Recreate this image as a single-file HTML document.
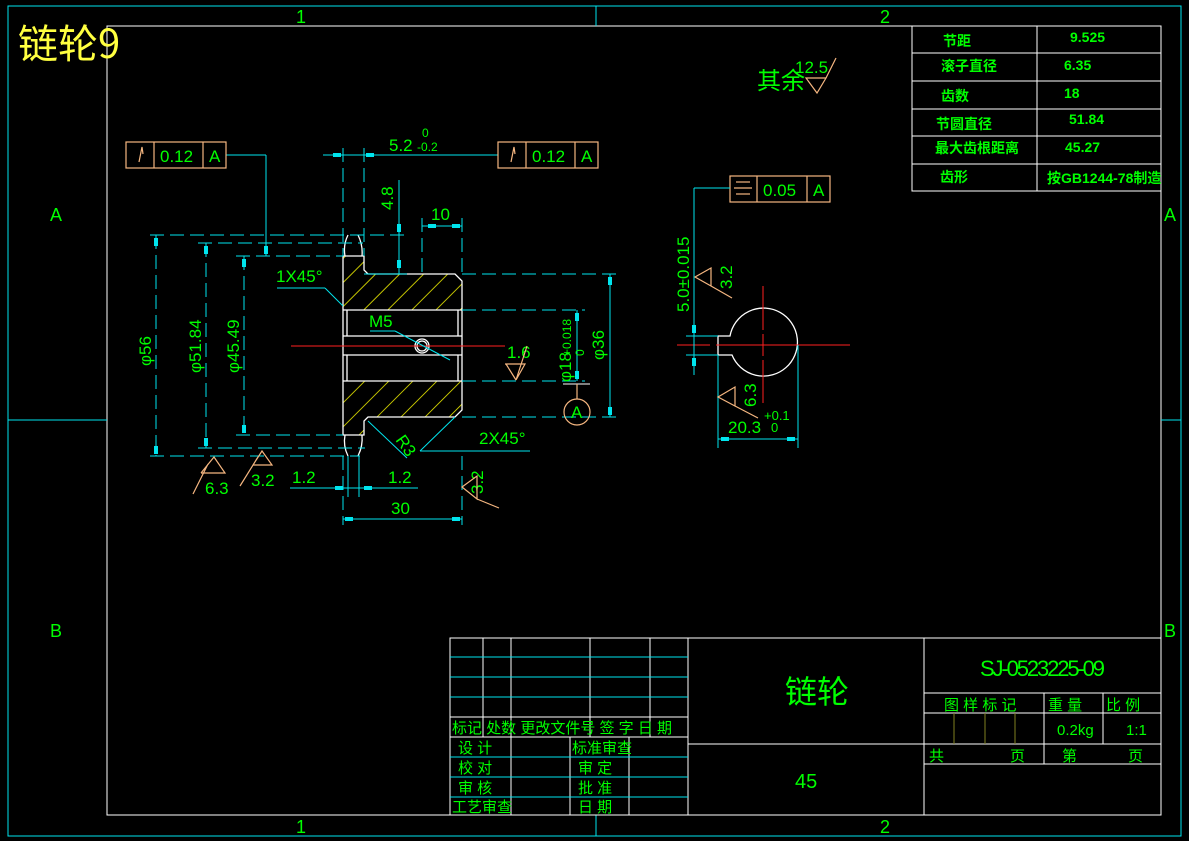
<!DOCTYPE html>
<html><head><meta charset="utf-8"><style>
html,body{margin:0;padding:0;background:#000;}
svg{display:block}
text{font-family:"Liberation Sans","Noto Sans CJK SC",sans-serif;fill:#00ff00}
.c{stroke:#00e5ee;stroke-width:1;fill:none}
.d{stroke:#00e5ee;stroke-width:1;fill:none;stroke-dasharray:14 6}
.w{stroke:#fff;stroke-width:1.3;fill:none}
.o{stroke:#f5b680;stroke-width:1.2;fill:none}
.r{stroke:#ff2020;stroke-width:1;fill:none}
.cj{font-family:"Noto Sans CJK SC","WenQuanYi Zen Hei",sans-serif}
</style></head><body>
<svg width="1189" height="841" viewBox="0 0 1189 841" xmlns="http://www.w3.org/2000/svg">
<defs>
<pattern id="h" patternUnits="userSpaceOnUse" width="17" height="17" patternTransform="rotate(45)">
<line x1="0" y1="0" x2="0" y2="17" stroke="#ffff00" stroke-width="1.5"/>
</pattern>
</defs>
<rect x="8" y="6" width="1173" height="830" class="c"/>
<rect x="107" y="26" width="1054" height="789" fill="none" stroke="#fff" stroke-width="1"/>
<line x1="596" y1="6" x2="596" y2="26" class="c"/><line x1="596" y1="815" x2="596" y2="836" class="c"/>
<line x1="8" y1="420" x2="107" y2="420" class="c"/><line x1="1161" y1="420" x2="1181" y2="420" class="c"/>
<g font-size="18">
<text x="296" y="23">1</text><text x="880" y="23">2</text>
<text x="296" y="833">1</text><text x="880" y="833">2</text>
<text x="50" y="221">A</text><text x="50" y="637">B</text>
<text x="1164" y="221">A</text><text x="1164" y="637">B</text>
</g>
<text x="18" y="58" font-size="40" class="cj" style="fill:#ffff40">链轮9</text>

<g stroke="#fff" fill="none">
<rect x="912" y="26" width="249" height="165"/>
<line x1="1037" y1="26" x2="1037" y2="191"/>
<line x1="912" y1="53" x2="1161" y2="53"/><line x1="912" y1="81" x2="1161" y2="81"/>
<line x1="912" y1="109" x2="1161" y2="109"/><line x1="912" y1="136" x2="1161" y2="136"/>
<line x1="912" y1="164" x2="1161" y2="164"/>
</g>
<g font-size="14" font-weight="bold" class="cj">
<text x="943" y="46">节距</text><text x="941" y="71">滚子直径</text><text x="941" y="101">齿数</text>
<text x="936" y="129">节圆直径</text><text x="935" y="153">最大齿根距离</text><text x="940" y="182">齿形</text>
<text x="1047" y="183" font-size="14">按GB1244-78制造</text>
</g>
<g font-size="14" font-family="Liberation Serif" font-weight="bold">
<text x="1070" y="42">9.525</text><text x="1064" y="70">6.35</text><text x="1064" y="98">18</text>
<text x="1069" y="124">51.84</text><text x="1065" y="152">45.27</text>
</g>
<text x="757" y="89" font-size="24" class="cj">其余</text>
<text x="795" y="73" font-size="17">12.5</text>
<path d="M806,78 L826,78 L817,93 Z M826,78 L836,58" class="o"/>

<g stroke="#fff" fill="none">
<rect x="450" y="638" width="711" height="177"/>
<line x1="688" y1="638" x2="688" y2="815"/><line x1="924" y1="638" x2="924" y2="815"/>
<line x1="450" y1="717" x2="688" y2="717"/><line x1="450" y1="737" x2="688" y2="737"/>
<line x1="483" y1="638" x2="483" y2="737"/><line x1="511" y1="638" x2="511" y2="815"/>
<line x1="590" y1="638" x2="590" y2="737"/><line x1="650" y1="638" x2="650" y2="737"/>
<line x1="570" y1="737" x2="570" y2="815"/><line x1="629" y1="737" x2="629" y2="815"/>
<line x1="688" y1="744" x2="924" y2="744"/>
<line x1="924" y1="693" x2="1161" y2="693"/><line x1="924" y1="713" x2="1161" y2="713"/>
<line x1="924" y1="744" x2="1161" y2="744"/><line x1="924" y1="764" x2="1161" y2="764"/>
<line x1="1044" y1="693" x2="1044" y2="764"/><line x1="1103" y1="693" x2="1103" y2="744"/>
</g>
<g stroke="#00e5ee"><line x1="450" y1="657" x2="688" y2="657"/><line x1="450" y1="677" x2="688" y2="677"/><line x1="450" y1="697" x2="688" y2="697"/>
<line x1="450" y1="757" x2="688" y2="757"/><line x1="450" y1="777" x2="688" y2="777"/><line x1="450" y1="797" x2="688" y2="797"/></g>
<g stroke="#808020"><line x1="954" y1="713" x2="954" y2="744"/><line x1="985" y1="713" x2="985" y2="744"/><line x1="1015" y1="713" x2="1015" y2="744"/></g>
<g font-size="15" class="cj">
<text x="452" y="733">标记 处数 更改文件号  签  字  日 期</text>
<text x="458" y="753">设  计</text><text x="572" y="753">标准审查</text>
<text x="458" y="773">校  对</text><text x="578" y="773">审  定</text>
<text x="458" y="793">审  核</text><text x="578" y="793">批  准</text>
<text x="452" y="812">工艺审查</text><text x="578" y="812">日  期</text>
<text x="944" y="710">图 样 标 记</text><text x="1048" y="710">重   量</text><text x="1106" y="710">比   例</text>
<text x="929" y="761">共</text><text x="1010" y="761">页</text><text x="1062" y="761">第</text><text x="1128" y="761">页</text>
</g>
<text x="785" y="703" font-size="32" class="cj">链轮</text>
<text x="980" y="676" font-size="22" font-family="Liberation Sans Narrow" textLength="125">SJ-0523225-09</text>
<text x="795" y="788" font-size="20">45</text>
<text x="1057" y="735" font-size="15" font-family="Liberation Serif">0.2kg</text>
<text x="1126" y="735" font-size="15" font-family="Liberation Serif">1:1</text>

<path d="M343,256 L364,256 L364,270 L368,274 L455,274 L462,281 L462,310 L343,310 Z" fill="url(#h)"/>
<path d="M343,381 L462,381 L462,410 L455,417 L368,417 L364,421 L364,435 L343,435 Z" fill="url(#h)"/>
<g class="w">
<path d="M343,256 L364,256 L364,270 L368,274 L455,274 L462,281 L462,410 L455,417 L368,417 L364,421 L364,435 L343,435 Z"/>
<line x1="343" y1="310" x2="462" y2="310"/><line x1="343" y1="381" x2="462" y2="381"/>
<line x1="343" y1="336" x2="462" y2="336"/><line x1="343" y1="355" x2="462" y2="355"/>
<line x1="347" y1="310" x2="347" y2="336"/><line x1="458" y1="310" x2="458" y2="336"/>
<line x1="347" y1="355" x2="347" y2="381"/><line x1="458" y1="355" x2="458" y2="381"/>
<path d="M345,256 Q343,245 348,235 M362,256 Q363,245 358,235"/>
<path d="M345,435 Q343,446 348,456 M362,435 Q363,446 358,456"/>
<circle cx="422" cy="346" r="7"/><circle cx="422" cy="346" r="5"/>
</g>
<line x1="291" y1="346" x2="505" y2="346" class="r"/>
<g class="d">
<line x1="150" y1="235" x2="408" y2="235"/><line x1="198" y1="243" x2="363" y2="243"/>
<line x1="236" y1="256" x2="343" y2="256"/><line x1="462" y1="274" x2="619" y2="274"/>
<line x1="462" y1="310" x2="585" y2="310"/><line x1="462" y1="381" x2="585" y2="381"/>
<line x1="462" y1="417" x2="619" y2="417"/><line x1="236" y1="435" x2="343" y2="435"/>
<line x1="198" y1="448" x2="365" y2="448"/><line x1="150" y1="456" x2="360" y2="456"/>
<line x1="156" y1="235" x2="156" y2="456"/><line x1="206" y1="243" x2="206" y2="448"/>
<line x1="244" y1="256" x2="244" y2="435"/>
<line x1="343" y1="148" x2="343" y2="256"/><line x1="364" y1="148" x2="364" y2="256"/>
<line x1="422" y1="218" x2="422" y2="274"/><line x1="462" y1="218" x2="462" y2="274"/>
<line x1="462" y1="456" x2="462" y2="525"/><line x1="343" y1="456" x2="343" y2="525"/>
</g>
<g class="c">
<line x1="610" y1="274" x2="610" y2="417"/><line x1="577" y1="310" x2="577" y2="381"/>
<line x1="399" y1="180" x2="399" y2="274"/><line x1="364" y1="274" x2="407" y2="274"/>
<line x1="323" y1="155" x2="498" y2="155"/>
<line x1="422" y1="226" x2="462" y2="226"/>
<line x1="343" y1="519" x2="462" y2="519"/>
<line x1="290" y1="488" x2="418" y2="488"/>
<line x1="348" y1="456" x2="348" y2="497"/><line x1="359" y1="456" x2="359" y2="497"/>
<line x1="226" y1="155" x2="266" y2="155"/><line x1="266" y1="155" x2="266" y2="256"/>
<line x1="277" y1="288" x2="325" y2="288"/><line x1="325" y1="288" x2="343" y2="306"/>
<line x1="370" y1="331" x2="395" y2="331"/><line x1="395" y1="331" x2="450" y2="360"/>
<line x1="368" y1="421" x2="407" y2="458"/>
<line x1="420" y1="451" x2="530" y2="451"/><line x1="420" y1="451" x2="455" y2="417"/>
</g>
<g fill="#00e5ee">
<rect x="154" y="238" width="4" height="8"/><rect x="154" y="446" width="4" height="8"/>
<rect x="204" y="246" width="4" height="8"/><rect x="204" y="438" width="4" height="8"/>
<rect x="242" y="259" width="4" height="8"/><rect x="242" y="425" width="4" height="8"/>
<rect x="264" y="246" width="4" height="8"/>
<rect x="608" y="277" width="4" height="8"/><rect x="608" y="407" width="4" height="8"/>
<rect x="575" y="313" width="4" height="8"/><rect x="575" y="371" width="4" height="8"/>
<rect x="397" y="224" width="4" height="8"/><rect x="397" y="260" width="4" height="8"/>
<rect x="333" y="153" width="8" height="4"/><rect x="366" y="153" width="8" height="4"/>
<rect x="428" y="224" width="8" height="4"/><rect x="452" y="224" width="8" height="4"/>
<rect x="345" y="517" width="8" height="4"/><rect x="452" y="517" width="8" height="4"/>
<rect x="335" y="486" width="8" height="4"/><rect x="364" y="486" width="8" height="4"/>
</g>
<g font-size="17">
<text x="389" y="151">5.2</text><text x="422" y="137" font-size="12">0</text><text x="417" y="151" font-size="12">-0.2</text>
<text x="431" y="220">10</text>
<text x="391" y="514">30</text>
<text x="292" y="483">1.2</text><text x="388" y="483">1.2</text>
<text x="276" y="282">1X45°</text>
<text x="369" y="327">M5</text>
<text x="507" y="358">1.6</text>
<text x="479" y="444">2X45°</text>
<text x="205" y="494">6.3</text><text x="251" y="486">3.2</text>
<text transform="translate(151,366) rotate(-90)">φ56</text>
<text transform="translate(201,373) rotate(-90)">φ51.84</text>
<text transform="translate(239,373) rotate(-90)">φ45.49</text>
<text transform="translate(604,360) rotate(-90)">φ36</text>
<text transform="translate(571,382) rotate(-90)">φ18</text>
<text transform="translate(571,356) rotate(-90)" font-size="12">+0.018</text>
<text transform="translate(584,356) rotate(-90)" font-size="12">0</text>
<text transform="translate(393,210) rotate(-90)">4.8</text>
<text transform="translate(395,440) rotate(55)">R3</text>
<text transform="translate(483,494) rotate(-90)">3.2</text>
</g>
<g class="o">
<path d="M505,364 L525,364 L516,380 M516,380 L506,364 M516,380 L527,346"/>
<path d="M201,473 L225,473 L214,457 L201,473 M208,464 L193,494"/>
<path d="M253,465 L272,465 L262,451 L253,465 M258,457 L240,486"/>
<path d="M462,487 L477,476 L477,499 Z M477,499 L499,508"/>
</g>
<g class="o">
<rect x="126" y="142" width="100" height="26"/><line x1="154" y1="142" x2="154" y2="168"/><line x1="203" y1="142" x2="203" y2="168"/>
<rect x="498" y="142" width="100" height="26"/><line x1="526" y1="142" x2="526" y2="168"/><line x1="575" y1="142" x2="575" y2="168"/>
<rect x="730" y="176" width="100" height="26"/><line x1="757" y1="176" x2="757" y2="202"/><line x1="807" y1="176" x2="807" y2="202"/>
<path d="M139,162 L142,147 L143,154" /><path d="M511,162 L514,147 L515,154"/>
<line x1="736" y1="182" x2="750" y2="182"/><line x1="734" y1="188" x2="752" y2="188"/><line x1="736" y1="194" x2="750" y2="194"/>
<circle cx="577" cy="412" r="13"/>
</g>
<line x1="563" y1="384" x2="590" y2="384" stroke="#fff"/><line x1="577" y1="384" x2="577" y2="399" class="o"/>
<g font-size="17">
<text x="160" y="162">0.12</text><text x="209" y="162">A</text>
<text x="532" y="162">0.12</text><text x="581" y="162">A</text>
<text x="763" y="196">0.05</text><text x="813" y="196">A</text>
<text x="571" y="418">A</text>
</g>

<path d="M730,336 L718,336 L718,355 L732,355 A34,34 0 1 0 730,336 Z" class="w"/>
<line x1="677" y1="345" x2="710" y2="345" class="r"/><line x1="716" y1="345" x2="850" y2="345" class="r"/>
<line x1="763" y1="286" x2="763" y2="330" class="r"/><line x1="763" y1="334" x2="763" y2="356" class="r"/><line x1="763" y1="360" x2="763" y2="403" class="r"/>
<g class="c">
<line x1="730" y1="188" x2="694" y2="188"/><line x1="694" y1="188" x2="694" y2="375"/>
<line x1="686" y1="336" x2="718" y2="336"/><line x1="686" y1="355" x2="718" y2="355"/>
<line x1="718" y1="355" x2="718" y2="448"/><line x1="798" y1="345" x2="798" y2="448"/>
<line x1="718" y1="439" x2="798" y2="439"/>
</g>
<g fill="#00e5ee"><rect x="692" y="325" width="4" height="8"/><rect x="692" y="358" width="4" height="8"/>
<rect x="721" y="437" width="8" height="4"/><rect x="787" y="437" width="8" height="4"/></g>
<g class="o"><path d="M695,277 L711,268 L711,286 Z M711,286 L732,298"/>
<path d="M718,397 L735,387 L735,406 Z M735,406 L758,418"/></g>
<g font-size="17">
<text transform="translate(689,312) rotate(-90)">5.0±0.015</text>
<text transform="translate(732,289) rotate(-90)">3.2</text>
<text transform="translate(756,407) rotate(-90)">6.3</text>
<text x="728" y="433">20.3</text><text x="764" y="420" font-size="13">+0.1</text><text x="771" y="432" font-size="13">0</text>
</g>
</svg>
</body></html>
